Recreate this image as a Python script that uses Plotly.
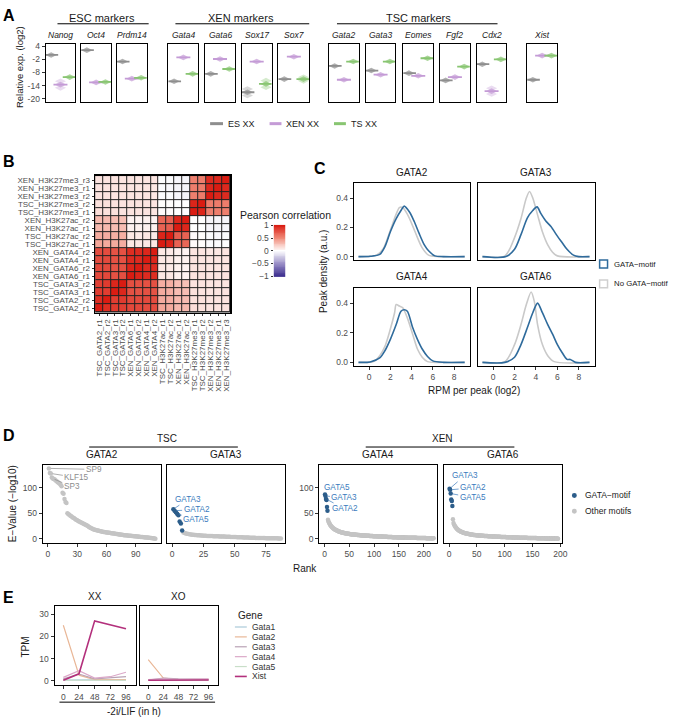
import plotly.graph_objects as go
import numpy as np

W, H = 674, 720
FONT = "Liberation Sans, Arial, Helvetica, sans-serif"
TICKC = "#4d4d4d"

# ======================= DATA =======================
# Panel A: relative expression (log2)
a_genes = ["Nanog", "Oct4", "Prdm14", "Gata4", "Gata6", "Sox17", "Sox7",
           "Gata2", "Gata3", "Eomes", "Fgf2", "Cdx2", "Xist"]
a_group_names = ["ES XX", "XEN XX", "TS XX"]
a_es = [0.0, 2.2, -3.0, -12.0, -8.6, -17.0, -11.0, -5.0, -7.1, -8.3, -11.6, -4.2, -11.3]
a_xen = [-13.5, -12.5, -10.8, -1.1, -1.85, -3.0, -0.8, -11.3, -9.0, -9.5, -10.1, -16.5, -0.3]
a_ts = [-10.1, -12.3, -10.4, -8.6, -6.4, -13.2, -11.0, -3.0, -3.0, -1.5, -5.3, -2.0, -0.3]
a_es_spread = [0, 0, 0, 0, 0, 1.5, 0, 0, 0, 0, 0, 0, 0]
a_xen_spread = [1.5, 0, 0, 0, 0, 0, 0, 0, 0, 0, 0, 1.3, 0]
a_ts_spread = [0, 0, 0, 0, 0, 1.5, 0.8, 0, 0, 0, 0, 0, 0]
a_sections = ["ESC markers", "XEN markers", "TSC markers"]
a_yticks = [4, -2, -8, -14, -20]

# Panel B: Pearson correlation matrix (row i = y, col j = x; index 0 at bottom/left)
b_labels = ["TSC_GATA2_r1", "TSC_GATA2_r2", "TSC_GATA3_r1", "TSC_GATA3_r2",
            "XEN_GATA6_r1", "XEN_GATA6_r2", "XEN_GATA4_r1", "XEN_GATA4_r2",
            "TSC_H3K27ac_r1", "TSC_H3K27ac_r2", "XEN_H3K27ac_r1", "XEN_H3K27ac_r2",
            "TSC_H3K27me3_r1", "TSC_H3K27me3_r2", "XEN_H3K27me3_r2", "XEN_H3K27me3_r1",
            "XEN_H3K27me3_r3"]
b_corr = [
    [1.00, .92, .86, .84, .80, .80, .78, .78, .38, .36, .30, .30, .14, .13, .12, .12, .12],
    [.92, 1.00, .85, .86, .80, .79, .79, .78, .36, .35, .30, .29, .13, .13, .12, .12, .12],
    [.86, .85, 1.00, .95, .76, .75, .76, .75, .36, .34, .28, .28, .13, .12, .11, .11, .12],
    [.84, .86, .95, 1.00, .77, .76, .76, .76, .35, .34, .28, .27, .12, .12, .11, .11, .11],
    [.80, .80, .76, .77, 1.00, .96, .93, .92, .10, .10, .06, .05, .12, .12, .11, .11, .12],
    [.80, .79, .75, .76, .96, 1.00, .93, .93, .10, .09, .06, .05, .12, .12, .11, .11, .11],
    [.78, .79, .76, .76, .93, .93, 1.00, .95, .10, .10, .06, .06, .12, .11, .11, .11, .11],
    [.78, .78, .75, .76, .92, .93, .95, 1.00, .10, .09, .06, .05, .11, .11, .10, .10, .11],
    [.38, .36, .36, .35, .10, .10, .10, .10, 1.00, .96, .68, .66, .02, .01, -.02, -.02, -.01],
    [.36, .35, .34, .34, .10, .09, .10, .09, .96, 1.00, .70, .68, .02, .01, -.02, -.03, -.02],
    [.30, .30, .28, .28, .06, .06, .06, .06, .68, .70, 1.00, .95, .00, .00, -.04, -.05, -.04],
    [.30, .29, .28, .27, .05, .05, .06, .05, .66, .68, .95, 1.00, .00, .00, -.05, -.05, -.05],
    [.14, .13, .13, .12, .12, .12, .12, .11, .02, .02, .00, .00, 1.00, .96, .55, .56, .55],
    [.13, .13, .12, .12, .12, .12, .11, .11, .01, .01, .00, .00, .96, 1.00, .57, .57, .56],
    [.12, .12, .11, .11, .11, .11, .11, .10, -.02, -.02, -.04, -.05, .55, .57, 1.00, .95, .93],
    [.12, .12, .11, .11, .11, .11, .11, .10, -.02, -.03, -.05, -.05, .56, .57, .95, 1.00, .94],
    [.12, .12, .12, .11, .12, .11, .11, .11, -.01, -.02, -.04, -.05, .55, .56, .93, .94, 1.00],
]
b_cbar_ticks = [1, 0.5, 0, -0.5, -1]
b_cbar_text = ["1", "0.5", "0", "\u22120.5", "\u22121"]

# Panel C: peak density curves (x = RPM per peak log2, y = density)
c_titles = ["GATA2", "GATA3", "GATA4", "GATA6"]
c_gata_x = [
    [-1.0, 0.1, 1.0, 1.5, 2.0, 2.55, 3.0, 3.3, 3.8, 4.25, 4.7, 5.2, 5.6, 6.2, 7.0, 9.0],
    [-1.0, 1.2, 2.0, 2.6, 3.2, 3.7, 4.1, 4.45, 4.9, 5.4, 6.0, 6.45, 6.9, 7.5, 8.0, 9.0],
    [-1.0, 0.1, 1.0, 1.5, 2.0, 2.55, 3.0, 3.3, 3.6, 4.1, 4.55, 5.0, 5.5, 6.0, 7.0, 9.0],
    [-1.0, 1.1, 2.0, 2.6, 3.2, 3.7, 4.15, 4.6, 5.1, 5.55, 6.0, 6.45, 6.9, 7.2, 7.7, 9.0],
]
c_gata_y = [
    [0, 0.002, 0.015, 0.07, 0.17, 0.26, 0.315, 0.345, 0.305, 0.24, 0.16, 0.08, 0.04, 0.005, 0, 0],
    [0, 0, 0.05, 0.15, 0.265, 0.315, 0.34, 0.295, 0.245, 0.205, 0.14, 0.095, 0.05, 0.01, 0, 0],
    [0, 0.003, 0.03, 0.08, 0.155, 0.255, 0.345, 0.355, 0.345, 0.235, 0.155, 0.09, 0.04, 0.01, 0, 0],
    [0, 0, 0.035, 0.12, 0.235, 0.335, 0.40, 0.335, 0.255, 0.19, 0.12, 0.065, 0.02, 0.02, 0, 0],
]
c_nogata_x = [
    [-1.0, 0.2, 0.7, 1.3, 2.0, 2.55, 2.85, 3.15, 3.6, 4.1, 4.55, 5.0, 5.6, 6.5, 9.0],
    [-1.0, 1.1, 2.0, 2.6, 3.1, 3.4, 3.7, 4.15, 4.6, 5.1, 5.55, 6.0, 9.0],
    [-1.0, 0.4, 1.0, 1.5, 2.0, 2.4, 2.55, 2.85, 3.15, 3.6, 4.1, 4.55, 5.0, 5.5, 6.5, 9.0],
    [-1.0, 1.1, 2.0, 2.6, 3.1, 3.55, 3.85, 4.15, 4.6, 5.1, 5.7, 9.0],
]
c_nogata_y = [
    [0, 0.002, 0.01, 0.05, 0.18, 0.29, 0.335, 0.335, 0.29, 0.21, 0.13, 0.06, 0.01, 0, 0],
    [0, 0.005, 0.13, 0.26, 0.40, 0.445, 0.40, 0.285, 0.17, 0.08, 0.03, 0.005, 0],
    [0, 0.005, 0.045, 0.11, 0.225, 0.335, 0.39, 0.38, 0.37, 0.30, 0.19, 0.09, 0.035, 0.005, 0, 0],
    [0, 0.005, 0.12, 0.255, 0.39, 0.475, 0.41, 0.255, 0.12, 0.045, 0.005, 0],
]
c_xticks = [0, 2, 4, 6, 8]
c_yticks = [0.0, 0.2, 0.4]

# Panel D: motif E-values (-log10) by rank
d_titles = ["GATA2", "GATA3", "GATA4", "GATA6"]
d_gata2_other = [138, 129, 128, 120, 118, 117, 116, 114, 113, 111, 110, 108, 106, 103, 90, 88, 78, 72, 70, 50,
                 48, 47, 45, 44, 42, 41, 40, 38, 37, 36, 35, 34, 33, 32, 31, 30, 29, 28, 27, 26,
                 25, 23, 22, 21, 20, 19, 18, 17.5, 17, 16.5, 16, 15.5, 15, 14.6, 14.2, 13.8, 13.4, 13, 12.7, 12.4,
                 12.1, 11.8, 11.5, 11.2, 10.9, 10.6, 10.3, 10, 9.7, 9.4, 9.1, 8.8, 8.5, 8.2, 7.9, 7.6, 7.3, 7.0, 6.8, 6.6,
                 6.4, 6.2, 6.0, 5.8, 5.6, 5.4, 5.2, 5.0, 4.8, 4.6, 4.4, 4.2, 4.0, 3.8, 3.6, 3.4, 3.2, 3.0, 2.8, 2.6,
                 2.4, 2.2, 2.0, 1.8, 1.6, 1.3, 1.0, 0.7, 0.4, 0.1]
d_gata3_gata = [58, 55, 52, 49, 46, 34, 30, 16]
d_gata3_other = [12, 11, 10.2, 9.6, 9.1, 8.7, 8.3, 8.0, 7.7, 7.4,
                 7.2, 7.0, 6.8, 6.6, 6.4, 6.2, 6.0, 5.8, 5.6, 5.5,
                 5.4, 5.3, 5.2, 5.1, 5.0, 4.9, 4.8, 4.7, 4.6, 4.5,
                 4.4, 4.3, 4.2, 4.1, 4.0, 3.9, 3.8, 3.7, 3.6, 3.5,
                 3.4, 3.3, 3.2, 3.1, 3.0, 2.9, 2.8, 2.7, 2.6, 2.5,
                 2.4, 2.3, 2.2, 2.1, 2.0, 1.9, 1.8, 1.7, 1.6, 1.5,
                 1.45, 1.4, 1.35, 1.3, 1.25, 1.2, 1.15, 1.1, 1.05, 1.0,
                 0.95, 0.9, 0.85, 0.8, 0.75, 0.7, 0.65, 0.6, 0.5]
d_gata4_gata = [87, 84, 78, 76, 62, 55]
d_gata4_other = [37, 34, 32, 30, 28, 26.5, 25, 24, 23, 22,
                 21, 20.2, 19.5, 18.8, 18.2, 17.6, 17, 16.5, 16, 15.5,
                 15.1, 14.7, 14.3, 13.9, 13.5, 13.2, 12.9, 12.6, 12.3, 12,
                 11.7, 11.5, 11.3, 11.1, 10.9, 10.7, 10.5, 10.3, 10.1, 9.9,
                 9.8, 9.6, 9.5, 9.3, 9.2, 9.0, 8.9, 8.8, 8.6, 8.5,
                 8.4, 8.3, 8.2, 8.1, 8.0, 7.9, 7.8, 7.7, 7.6, 7.5,
                 7.4, 7.3, 7.2, 7.1, 7.0, 6.9, 6.8, 6.7, 6.6, 6.5,
                 6.45, 6.4, 6.3, 6.25, 6.2, 6.1, 6.05, 6.0, 5.9, 5.85,
                 5.8, 5.7, 5.65, 5.6, 5.5, 5.45, 5.4, 5.3, 5.25, 5.2,
                 5.1, 5.05, 5.0, 4.95, 4.9, 4.85, 4.8, 4.75, 4.7, 4.65,
                 4.6, 4.55, 4.5, 4.45, 4.4, 4.35, 4.3, 4.25, 4.2, 4.15,
                 4.1, 4.05, 4.0, 3.95, 3.9, 3.85, 3.8, 3.75, 3.7, 3.65,
                 3.6, 3.55, 3.5, 3.45, 3.4, 3.35, 3.3, 3.25, 3.2, 3.15,
                 3.1, 3.05, 3.0, 2.95, 2.9, 2.85, 2.8, 2.75, 2.7, 2.65,
                 2.6, 2.58, 2.55, 2.52, 2.5, 2.47, 2.45, 2.42, 2.4, 2.37,
                 2.35, 2.32, 2.3, 2.27, 2.25, 2.22, 2.2, 2.17, 2.15, 2.12,
                 2.1, 2.07, 2.05, 2.02, 2.0, 1.97, 1.95, 1.92, 1.9, 1.87,
                 1.85, 1.82, 1.8, 1.77, 1.75, 1.72, 1.7, 1.67, 1.65, 1.62,
                 1.6, 1.57, 1.55, 1.52, 1.5, 1.47, 1.45, 1.42, 1.4, 1.37,
                 1.35, 1.32, 1.3, 1.27, 1.25, 1.22, 1.2, 1.17, 1.15, 1.12,
                 1.1, 1.07, 1.05, 1.02, 1.0, 0.97, 0.95, 0.92, 0.9, 0.87,
                 0.85, 0.8, 0.75, 0.7]
d_gata6_gata = [98, 96, 88.6, 77, 74, 64]
d_gata6_other = [38, 31, 28, 26, 24, 22.5, 21, 19.5, 18.5, 17.5,
                 16.7, 16, 15.3, 14.7, 14.1, 13.6, 13.1, 12.6, 12.2, 11.8,
                 11.4, 11.1, 10.8, 10.5, 10.2, 9.9, 9.7, 9.5, 9.3, 9.1,
                 8.9, 8.7, 8.5, 8.3, 8.1, 7.9, 7.7, 7.5, 7.3, 7.2,
                 7.1, 7.0, 6.9, 6.8, 6.7, 6.6, 6.5, 6.4, 6.3, 6.2,
                 6.1, 6.0, 5.9, 5.8, 5.7, 5.6, 5.5, 5.45, 5.4, 5.3,
                 5.2, 5.15, 5.1, 5.0, 4.95, 4.9, 4.8, 4.75, 4.7, 4.6,
                 4.55, 4.5, 4.4, 4.35, 4.3, 4.25, 4.2, 4.1, 4.05, 4.0,
                 3.95, 3.9, 3.85, 3.8, 3.75, 3.7, 3.6, 3.55, 3.5, 3.45,
                 3.4, 3.35, 3.3, 3.25, 3.2, 3.15, 3.1, 3.05, 3.0, 2.95,
                 2.9, 2.85, 2.8, 2.75, 2.7, 2.65, 2.6, 2.55, 2.5, 2.45,
                 2.4, 2.35, 2.3, 2.27, 2.24, 2.21, 2.18, 2.15, 2.12, 2.09,
                 2.06, 2.03, 2.0, 1.97, 1.94, 1.91, 1.88, 1.85, 1.82, 1.79,
                 1.76, 1.73, 1.7, 1.67, 1.64, 1.61, 1.58, 1.55, 1.52, 1.49,
                 1.46, 1.43, 1.4, 1.37, 1.34, 1.31, 1.28, 1.25, 1.22, 1.19,
                 1.16, 1.13, 1.1, 1.07, 1.04, 1.01, 0.98, 0.95, 0.92, 0.89,
                 0.86, 0.83, 0.8, 0.77, 0.74, 0.71, 0.68, 0.65, 0.62, 0.59,
                 0.56, 0.53, 0.5, 0.48, 0.46, 0.44, 0.42, 0.4, 0.38, 0.36,
                 0.34, 0.32, 0.3, 0.28, 0.26, 0.24, 0.22, 0.2, 0.18, 0.16]
# labels: (panel index, rank, text, is_gata)
d_labels = [(0, 1, "SP9", False), (0, 3, "KLF15", False), (0, 5, "SP3", False),
            (1, 1, "GATA3", True), (1, 2, "GATA2", True), (1, 4, "GATA5", True),
            (2, 1, "GATA5", True), (2, 2, "GATA3", True), (2, 3, "GATA2", True),
            (3, 1, "GATA3", True), (3, 2, "GATA2", True), (3, 3, "GATA5", True)]

# Panel E: TPM time course
e_hours = [0, 24, 48, 72, 96]
e_genes = ["Gata1", "Gata2", "Gata3", "Gata4", "Gata5", "Xist"]
e_xx = {
    "Gata1": [0.3, 0.5, 0.4, 0.3, 0.3],
    "Gata2": [25.0, 2.5, 0.5, 0.5, 0.5],
    "Gata3": [0.8, 3.0, 0.8, 1.2, 1.8],
    "Gata4": [1.5, 4.5, 1.2, 1.8, 3.8],
    "Gata5": [0.2, 0.3, 0.2, 0.2, 0.2],
    "Xist": [0.2, 3.1, 27.0, 25.2, 23.4],
}
e_xo = {
    "Gata1": [0.3, 0.4, 0.3, 0.3, 0.3],
    "Gata2": [9.5, 1.2, 0.5, 0.5, 0.5],
    "Gata3": [0.3, 1.2, 0.8, 0.6, 0.6],
    "Gata4": [0.5, 0.8, 0.6, 0.6, 0.8],
    "Gata5": [0.1, 0.2, 0.1, 0.1, 0.1],
    "Xist": [0.2, 0.3, 0.3, 0.3, 0.3],
}

# ======================= STYLE / LAYOUT HELPERS =======================
def X(px):
    return px / W


def Y(py):
    return 1 - py / H


fig = go.Figure()
layout = {}
anns = []
shapes = []
_n = [0]


def add_axes(xpx, ypx, xr, yr, xt=None, xtt=None, yt=None, ytt=None, frame=True, lw=1.0,
             tfs=8.5, xangle=None, ticklen=3):
    _n[0] += 1
    n = _n[0]
    s = "" if n == 1 else str(n)
    base = dict(showgrid=False, zeroline=False, showline=frame, linecolor="black", linewidth=lw,
                mirror=frame, ticklen=ticklen, tickwidth=1, tickcolor="#333333",
                tickfont=dict(size=tfs, color=TICKC, family=FONT), fixedrange=True)
    xa = dict(base, domain=[X(xpx[0]), X(xpx[1])], range=xr, anchor="y" + s)
    ya = dict(base, domain=[Y(ypx[1]), Y(ypx[0])], range=yr, anchor="x" + s)
    if xt is None:
        xa.update(ticks="", showticklabels=False)
    else:
        xa.update(ticks="outside", showticklabels=True, tickmode="array", tickvals=xt,
                  ticktext=xtt if xtt is not None else [str(t) for t in xt])
        if xangle is not None:
            xa["tickangle"] = xangle
    if yt is None:
        ya.update(ticks="", showticklabels=False)
    else:
        ya.update(ticks="outside", showticklabels=True, tickmode="array", tickvals=yt,
                  ticktext=ytt if ytt is not None else [str(t) for t in yt])
    layout["xaxis" + s] = xa
    layout["yaxis" + s] = ya
    return "x" + s, "y" + s


def text(px, py, t, size=10, color="#1a1a1a", xanchor="center", yanchor="middle", angle=0,
         bold=False, italic=False):
    if bold:
        t = "<b>" + t + "</b>"
    if italic:
        t = "<i>" + t + "</i>"
    anns.append(dict(x=X(px), y=Y(py), xref="paper", yref="paper", text=t, showarrow=False,
                     xanchor=xanchor, yanchor=yanchor, textangle=angle,
                     font=dict(size=size, color=color, family=FONT)))


def hline(x0, x1, py, color="black", width=1):
    shapes.append(dict(type="line", xref="paper", yref="paper", x0=X(x0), x1=X(x1), y0=Y(py), y1=Y(py),
                       line=dict(color=color, width=width)))


# ======================= PANEL A =======================
text(9, 12, "A", size=16, bold=True, color="black")
a_box_x = [(46, 76), (82, 112), (118, 148), (170, 200), (207, 237), (244, 274), (281, 312),
           (332, 362), (369, 399), (407, 437), (444, 474), (481, 511), (532, 562)]
a_cols = ["#8e8e8e", "#c49bd6", "#88c571"]
a_vals = [a_es, a_xen, a_ts]
a_spreads = [a_es_spread, a_xen_spread, a_ts_spread]
for i, g in enumerate(a_genes):
    xa, ya = add_axes(a_box_x[i], (40, 99), [0.4, 3.6], [-21.4, 5.2],
                      yt=a_yticks if i == 0 else None)
    for k in range(3):
        v = a_vals[k][i]
        s = a_spreads[k][i]
        col = a_cols[k]
        if s > 0:
            fig.add_trace(go.Scatter(x=[k + 1, k + 1], y=[v - s, v + s], mode="markers",
                                     marker=dict(symbol="diamond-wide", size=8, color=col, opacity=0.35),
                                     xaxis=xa, yaxis=ya, showlegend=False, hoverinfo="skip"))
        fig.add_trace(go.Scatter(x=[k + 1], y=[v], mode="markers",
                                 marker=dict(symbol="diamond-wide", size=8, color=col, opacity=0.7),
                                 xaxis=xa, yaxis=ya, showlegend=False, hoverinfo="skip"))
        fig.add_trace(go.Scatter(x=[k + 1], y=[v], mode="markers",
                                 marker=dict(symbol="line-ew", size=10, line=dict(width=1.8, color=col)),
                                 xaxis=xa, yaxis=ya, showlegend=False, hoverinfo="skip"))
    cx = (a_box_x[i][0] + a_box_x[i][1]) / 2
    text(cx, 31, a_genes[i], size=8.5, italic=True)

text(103, 14, a_sections[0], size=11)
hline(58, 150, 20)
text(243, 14, a_sections[1], size=11)
hline(177, 312, 20)
text(422, 14, a_sections[2], size=11)
hline(340, 502, 20)
text(19, 64, "Relative exp. (log2)", size=9.5, angle=-90)

a_leg_x = [(212, 225), (272, 284), (337, 349)]
for k in range(3):
    hline(a_leg_x[k][0], a_leg_x[k][1], 121, color=a_cols[k], width=3)
    text(a_leg_x[k][1] + 3, 121, a_group_names[k], size=9, xanchor="left")

# ======================= PANEL B =======================
text(9, 159, "B", size=16, bold=True, color="black")
nb = len(b_labels)
idx = list(range(nb))
b_colorscale = [[0.0, "#3b2d8e"], [0.25, "#9a8fc7"], [0.5, "#ffffff"], [0.75, "#f08a78"], [1.0, "#da1c12"]]
xb, yb = add_axes((96, 232), (174, 312), [-0.5, nb - 0.5], [-0.5, nb - 0.5],
                  xt=idx, xtt=b_labels, yt=idx, ytt=b_labels, lw=1.6, tfs=8, xangle=-90, ticklen=2)
shapes.append(dict(type="rect", xref=xb + " domain", yref=yb + " domain", x0=0, x1=1, y0=0, y1=1,
                   fillcolor="#222222", line=dict(width=0), layer="below"))
fig.add_trace(go.Heatmap(z=b_corr, x=idx, y=idx, colorscale=b_colorscale, zmin=-1, zmax=1,
                         showscale=False, xgap=1, ygap=1, xaxis=xb, yaxis=yb, hoverinfo="skip"))
# colour key as its own small axis
cb_vals = list(np.linspace(-1, 1, 61))
xc, yc = add_axes((276, 288), (223, 276), [-0.5, 0.5], [-1.03, 1.03], yt=b_cbar_ticks, ytt=b_cbar_text,
                  frame=False, tfs=8.5, ticklen=2)
fig.add_trace(go.Heatmap(z=[[v] for v in cb_vals], x=[0], y=cb_vals, colorscale=b_colorscale, zmin=-1, zmax=1,
                         showscale=False, xaxis=xc, yaxis=yc, hoverinfo="skip"))
text(240, 213, "Pearson correlation", size=10.5, xanchor="left")

# ======================= PANEL C =======================
text(323, 166, "C", size=16, bold=True, color="black")
c_boxes = [((357, 474), (181, 259)), ((482, 600), (181, 259)),
           ((357, 474), (287, 366)), ((482, 600), (287, 366))]
BLUE = "#2f6b9c"
GREY = "#c9c9c9"
for p in range(4):
    bx, by = c_boxes[p]
    xa, ya = add_axes(bx, by, [-1.44, 9.48], [-0.024, 0.503],
                      xt=c_xticks if p >= 2 else None,
                      yt=c_yticks if p % 2 == 0 else None, ytt=["0.0", "0.2", "0.4"])
    fig.add_trace(go.Scatter(x=c_nogata_x[p], y=c_nogata_y[p], mode="lines",
                             line=dict(color=GREY, width=1.6, shape="spline", smoothing=0.8),
                             xaxis=xa, yaxis=ya, showlegend=False, hoverinfo="skip"))
    fig.add_trace(go.Scatter(x=c_gata_x[p], y=c_gata_y[p], mode="lines",
                             line=dict(color=BLUE, width=1.6, shape="spline", smoothing=0.8),
                             xaxis=xa, yaxis=ya, showlegend=False, hoverinfo="skip"))
    text((bx[0] + bx[1]) / 2, by[0] - 11, c_titles[p], size=10)
text(327, 271, "Peak density (a.u.)", size=10, angle=-90)
text(478, 391, "RPM per peak (log2)", size=10)
for (py, col, lab) in [(263, BLUE, "GATA\u2212motif"), (283, "#cfcfcf", "No GATA\u2212motif")]:
    shapes.append(dict(type="rect", xref="paper", yref="paper", x0=X(605), x1=X(613), y0=Y(py + 4), y1=Y(py - 4),
                       fillcolor="white", line=dict(color=col, width=1.5)))
    text(617, py, lab, size=7.8, xanchor="left")

# ======================= PANEL D =======================
text(9, 436, "D", size=16, bold=True, color="black")
d_boxes = [(43, 162), (169, 288), (322, 441), (448, 567)]
d_xr = [[-5.4, 115.3], [-3.7, 90.6], [-10.8, 226.8], [-9.0, 203.0]]
d_xt = [[0, 30, 60, 90], [0, 25, 50, 75], [0, 50, 100, 150, 200], [0, 50, 100, 150, 200]]
d_gata = [[], d_gata3_gata, d_gata4_gata, d_gata6_gata]
d_other = [d_gata2_other, d_gata3_other, d_gata4_other, d_gata6_other]
D_BLUE = "#2c5d8a"
D_GREY = "#c4c4c4"
d_axes = []
for p in range(4):
    xa, ya = add_axes(d_boxes[p], (466, 545), d_xr[p], [-8.3, 145], xt=d_xt[p],
                      yt=[0, 50, 100] if p in (0, 2) else None)
    d_axes.append((xa, ya))
    ng = len(d_gata[p])
    ranks_o = list(range(ng + 1, ng + 1 + len(d_other[p])))
    fig.add_trace(go.Scatter(x=ranks_o, y=d_other[p], mode="markers",
                             marker=dict(size=4.5, color=D_GREY),
                             xaxis=xa, yaxis=ya, showlegend=False, hoverinfo="skip"))
    if ng:
        fig.add_trace(go.Scatter(x=list(range(1, ng + 1)), y=d_gata[p], mode="markers",
                                 marker=dict(size=4.5, color=D_BLUE),
                                 xaxis=xa, yaxis=ya, showlegend=False, hoverinfo="skip"))
    text((d_boxes[p][0] + d_boxes[p][1]) / 2, 456, d_titles[p], size=10)

# label offsets in pixels (text centre relative to the labelled point)
d_offsets = [(45, 1), (26, 4), (19, 8), (15, -10), (22, -1), (19, 6), (12, -7), (19, 2), (19, 10),
             (15, -13), (23, -2), (22, 4)]
for (p, r, lab, isg), (oxp, oyp) in zip(d_labels, d_offsets):
    vals = d_gata[p] + d_other[p]
    col = "#3b7bbd" if isg else "#8c8c8c"
    xa, ya = d_axes[p]
    anns.append(dict(x=r, y=vals[r - 1], xref=xa, yref=ya, text=lab, showarrow=True, arrowhead=0,
                     arrowwidth=0.7, arrowcolor=col, ax=oxp, ay=oyp, standoff=2,
                     font=dict(size=8.2, color=col, family=FONT)))

text(168, 439, "TSC", size=10)
hline(90, 240, 448)
text(446, 439, "XEN", size=10)
hline(369, 519, 448)
text(12, 505, "E\u2212Value (\u2212log10)", size=10, angle=-90)
text(308, 571, "Rank", size=10)
for (py, col, lab) in [(497, D_BLUE, "GATA\u2212motif"), (513, D_GREY, "Other motifs")]:
    shapes.append(dict(type="circle", xref="paper", yref="paper", x0=X(577), x1=X(582), y0=Y(py + 2.5),
                       y1=Y(py - 2.5), fillcolor=col, line=dict(width=0)))
    text(588, py, lab, size=8.5, xanchor="left")

# ======================= PANEL E =======================
text(9, 600, "E", size=16, bold=True, color="black")
e_cols = {"Gata1": "#a9c9d9", "Gata2": "#e9b797", "Gata3": "#b9a2b5", "Gata4": "#dba8c8",
          "Gata5": "#c8dec8", "Xist": "#b3307c"}
e_boxes = [(55, 137), (141, 220)]
for p, (dat, ttl) in enumerate([(e_xx, "XX"), (e_xo, "XO")]):
    xa, ya = add_axes(e_boxes[p], (609, 689), [-13.5, 111], [-2.1, 33.6], xt=e_hours,
                      yt=[0, 10, 20, 30] if p == 0 else None)
    for g in e_genes:
        fig.add_trace(go.Scatter(x=e_hours, y=dat[g], mode="lines",
                                 line=dict(color=e_cols[g], width=1.6 if g == "Xist" else 1.2),
                                 xaxis=xa, yaxis=ya, showlegend=False, hoverinfo="skip"))
    text((e_boxes[p][0] + e_boxes[p][1]) / 2, 599, ttl, size=10)
text(26, 650, "TPM", size=10, angle=-90)
hline(60, 217, 706)
text(135, 715, "-2i/LIF (in h)", size=10)
text(238, 618, "Gene", size=10, xanchor="left")
for j, g in enumerate(e_genes):
    py = 630 + j * 10
    hline(237, 249, py, color=e_cols[g], width=1.6 if g == "Xist" else 1.2)
    text(252, py, g, size=8.5, xanchor="left", color="#333333")

layout.update(width=W, height=H, margin=dict(l=0, r=0, t=0, b=0), paper_bgcolor="white",
              plot_bgcolor="white", showlegend=False, annotations=anns, shapes=shapes,
              font=dict(family=FONT, size=9, color="#1a1a1a"))
fig.update_layout(**layout)
fig.write_html("out.html", config={"displayModeBar": False, "staticPlot": True},
               post_script="document.body.style.margin='0';document.body.style.padding='0';")
